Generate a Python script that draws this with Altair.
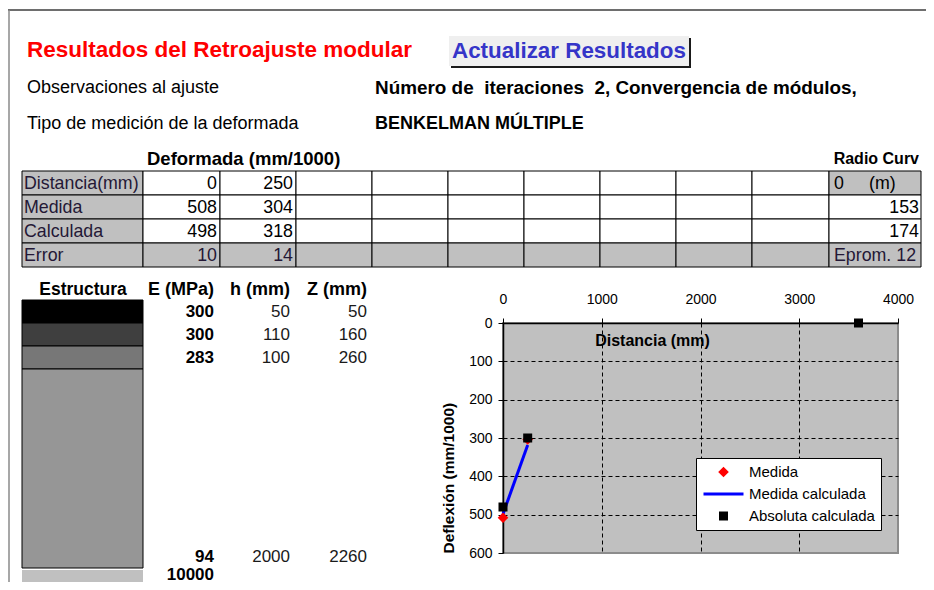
import altair as alt
import pandas as pd

# ---------------- data ----------------
distancia_mm = [0, 250]
deflexion_medida = [508, 304]
deflexion_calculada = [498, 318]
error_abs = [10, 14]
radio_distancia = 0
radio_medida = 153
radio_calculada = 174
error_promedio = 12

absoluta_dist = [0, 250, 3600]
absoluta_defl = [480, 300, 0]

capas_E = [300, 300, 283, 94, 10000]
capas_h = [50, 110, 100, 2000]
capas_Z = [50, 160, 260, 2260]

series = ["Medida", "Medida calculada", "Absoluta calculada"]
series_colors = ["#ff0000", "#0000ff", "#000000"]
x_ticks = [0, 1000, 2000, 3000, 4000]
y_ticks = [0, 100, 200, 300, 400, 500, 600]

titulo = "Resultados del Retroajuste modular"
boton = "Actualizar Resultados"
obs_label = "Observaciones al ajuste"
obs_text = "Número de\u00a0 iteraciones\u00a0 2, Convergencia de módulos,"
tipo_label = "Tipo de medición de la deformada"
tipo_text = "BENKELMAN MÚLTIPLE"
tabla_titulo = "Deformada (mm/1000)"
radio_titulo = "Radio Curv"
fila_labels = ["Distancia(mm)", "Medida", "Calculada", "Error"]
estructura_headers = ["Estructura", "E (MPa)", "h (mm)", "Z (mm)"]

# ---------------- layout (page geometry, not data) ----------------
FONT = "Liberation Sans"
OX, OY = 503, 323      # page position of the plot's top-left corner
PW, PH = 395, 230      # plot area size


def rx(v):
    return v - OX


def ry(v):
    return v - OY


col_edges = [22, 143, 220, 296, 372, 448, 524, 600, 676, 752, 829, 921]
row_edges = [171, 195, 219, 243, 267]
row_mid = [(row_edges[i] + row_edges[i + 1]) / 2 + 1 for i in range(4)]
layer_edges = [300, 323, 346, 369, 568]
layer_fills = ["#000000", "#3f3f3f", "#777777", "#969696", "#c0c0c0"]
value_rows = [311.5, 334.5, 357.5, 556.5, 574.5]
LABEL_COLOR = "#241836"

texts = []


def add(t, x, y, size, color="black", weight="normal", align="left"):
    texts.append(dict(text=t, x=rx(x), y=ry(y), size=size, color=color,
                      weight=weight, align=align))


add(titulo, 27, 50, 22.5, "#ff0000", "bold")
add(boton, 452, 51, 22.4, "#3535c8", "bold")
add(obs_label, 27, 88, 18)
add(obs_text, 375, 88, 18.9, weight="bold")
add(tipo_label, 27, 124, 18)
add(tipo_text, 375, 124, 18, weight="bold")
add(tabla_titulo, 147, 159, 18.5, weight="bold")
add(radio_titulo, 919, 159, 16, weight="bold", align="right")

rows_values = [distancia_mm, deflexion_medida, deflexion_calculada, error_abs]
for i, lab in enumerate(fila_labels):
    add(lab, 24, row_mid[i], 17.8, LABEL_COLOR)
    for j, v in enumerate(rows_values[i]):
        add(str(v), col_edges[j + 2] - 3, row_mid[i], 17.8,
            LABEL_COLOR if i == 3 else "black", align="right")
add(str(radio_distancia), 834, row_mid[0], 17.8)
add("(m)", 869, row_mid[0], 17.8)
add(str(radio_medida), 919, row_mid[1], 17.8, align="right")
add(str(radio_calculada), 919, row_mid[2], 17.8, align="right")
add(f"Eprom. {error_promedio}", 834, row_mid[3], 17.8, LABEL_COLOR)

add(estructura_headers[0], 83, 290, 17.5, weight="bold", align="center")
for hdr, xr in zip(estructura_headers[1:], [214, 290, 367]):
    add(hdr, xr, 290, 18, weight="bold", align="right")
for k, e in enumerate(capas_E):
    add(str(e), 214, value_rows[k], 17, weight="bold", align="right")
for k, (h, z) in enumerate(zip(capas_h, capas_Z)):
    add(str(h), 290, value_rows[k], 17, "#1a1a1a", align="right")
    add(str(z), 367, value_rows[k], 17, "#1a1a1a", align="right")

text_df = pd.DataFrame(texts)

# rectangles: table cells and structure layers (bordered), button (plain)
bordered = []
for r in range(4):
    for c in range(len(col_edges) - 1):
        grey = c == 0 or r == 3 or (r == 0 and c == len(col_edges) - 2)
        bordered.append(dict(x0=rx(col_edges[c]), x1=rx(col_edges[c + 1]),
                             y0=ry(row_edges[r]), y1=ry(row_edges[r + 1]),
                             fill="#c0c0c0" if grey else "#ffffff"))
for k in range(4):
    bordered.append(dict(x0=rx(22), x1=rx(143), y0=ry(layer_edges[k]),
                         y1=ry(layer_edges[k + 1]), fill=layer_fills[k]))
bordered_df = pd.DataFrame(bordered)

plain_df = pd.DataFrame([
    dict(x0=rx(451), x1=rx(691), y0=ry(38), y1=ry(68), fill="#1a1a1a"),
    dict(x0=rx(449), x1=rx(689), y0=ry(36), y1=ry(66), fill="#efefef"),
    dict(x0=rx(22), x1=rx(143), y0=ry(570), y1=ry(600), fill=layer_fills[4]),
])

hline_df = pd.DataFrame({"x0": [rx(8)], "x1": [rx(934)], "y": [ry(10)]})
vline_df = pd.DataFrame({"x": [rx(9)], "y0": [ry(10)], "y1": [ry(600)]})

# ---------------- layers ----------------
px = dict(x=alt.X("x0:Q", scale=None, axis=None), x2="x1:Q",
          y=alt.Y("y0:Q", scale=None, axis=None), y2="y1:Q",
          color=alt.Color("fill:N", scale=None, legend=None))

frame_h = alt.Chart(hline_df).mark_rule(color="#6e6e6e", strokeWidth=2).encode(
    x=alt.X("x0:Q", scale=None, axis=None), x2="x1:Q",
    y=alt.Y("y:Q", scale=None, axis=None))
frame_v = alt.Chart(vline_df).mark_rule(color="#8a8a8a", strokeWidth=1.5).encode(
    x=alt.X("x:Q", scale=None, axis=None),
    y=alt.Y("y0:Q", scale=None, axis=None), y2="y1:Q")

plain_rects = alt.Chart(plain_df).mark_rect().encode(**px)
bordered_rects = alt.Chart(bordered_df).mark_rect(stroke="black", strokeWidth=1).encode(**px)

text_layers = []
for (w, a), g in text_df.groupby(["weight", "align"]):
    text_layers.append(
        alt.Chart(g).mark_text(font=FONT, fontWeight=w, align=a, baseline="middle").encode(
            x=alt.X("x:Q", scale=None, axis=None),
            y=alt.Y("y:Q", scale=None, axis=None),
            text="text:N",
            size=alt.Size("size:Q", scale=None, legend=None),
            color=alt.Color("color:N", scale=None, legend=None)))

# ---------------- deflection plot ----------------
xs = alt.Scale(domain=[0, 4000], nice=False, zero=False)
ys = alt.Scale(domain=[0, 600], nice=False, reverse=True)

xaxis = alt.Axis(
    orient="top", values=x_ticks, format="d", labelFont=FONT, labelFontSize=14,
    labelColor="black", labelPadding=12, labelFlush=False, labelOverlap=False,
    domainColor="black", domainWidth=1.5, tickColor="black", tickSize=5,
    grid=True, gridColor="black", gridDash=[4, 3], gridWidth=1,
    gridOpacity={"condition": {"test": "datum.value === 0 || datum.value === 4000",
                               "value": 0}, "value": 1},
    title="Distancia (mm)", titleFont=FONT, titleFontSize=16, titleFontWeight="bold",
    titleColor="black", titleX=149, titleY=17, titleAlign="center",
    titleBaseline="middle", titleAngle=0)
yaxis = alt.Axis(
    orient="left", values=y_ticks, format="d", labelFont=FONT, labelFontSize=14,
    labelColor="black", labelPadding=6, labelFlush=False, labelOverlap=False,
    domainColor="black", domainWidth=1.5, tickColor="black", tickSize=5,
    grid=True, gridColor="black", gridDash=[4, 3], gridWidth=1,
    gridOpacity={"condition": {"test": "datum.value === 0 || datum.value === 600",
                               "value": 0}, "value": 1},
    title="Deflexión (mm/1000)", titleFont=FONT, titleFontSize=15.5,
    titleFontWeight="bold", titleColor="black", titleAngle=270, titleX=-55,
    titleY=PH, titleAlign="left", titleBaseline="middle")

line_df = pd.DataFrame({"dist": distancia_mm, "defl": deflexion_calculada})
pts_df = pd.DataFrame({
    "dist": distancia_mm + absoluta_dist,
    "defl": deflexion_medida + absoluta_defl,
    "serie": [series[0]] * len(distancia_mm) + [series[2]] * len(absoluta_dist),
})

shape_paths = ["M-0.16,0L0,-0.16L0.16,0L0,0.16Z", "M-1,0L1,0",
               "M-0.15,-0.15L0.15,-0.15L0.15,0.15L-0.15,0.15Z"]
leg = alt.Legend(orient="none", legendX=193, legendY=135, title=None,
                 direction="vertical", fillColor="white", strokeColor="black",
                 padding=6, cornerRadius=0, labelFont=FONT, labelFontSize=15,
                 labelColor="black", labelOffset=4, rowPadding=6, symbolSize=1600,
                 symbolStrokeWidth=3, symbolOpacity=1, clipHeight=16, labelLimit=300)

calc_line = alt.Chart(line_df).mark_line(color="#0000ff", strokeWidth=3).encode(
    x=alt.X("dist:Q", scale=xs, axis=xaxis),
    y=alt.Y("defl:Q", scale=ys, axis=yaxis))

points = alt.Chart(pts_df).mark_point(filled=True, size=1600, strokeWidth=3,
                                      opacity=1, strokeJoin="miter").encode(
    x=alt.X("dist:Q", scale=xs, axis=xaxis),
    y=alt.Y("defl:Q", scale=ys, axis=yaxis),
    fill=alt.Fill("serie:N", scale=alt.Scale(domain=series, range=series_colors), legend=leg),
    stroke=alt.Stroke("serie:N", scale=alt.Scale(domain=series, range=series_colors), legend=leg),
    shape=alt.Shape("serie:N", scale=alt.Scale(domain=series, range=shape_paths), legend=leg))

chart = alt.layer(
    frame_h, frame_v, plain_rects, bordered_rects, *text_layers, calc_line, points
).properties(
    width=PW, height=PH, autosize="none",
    padding={"left": OX - 8, "top": OY - 8, "right": 918 - (OX - 8) - PW,
             "bottom": 574 - (OY - 8) - PH},
    background="white",
).configure_view(fill="#c0c0c0", stroke="#8c8c8c", strokeWidth=2)

chart.save("out.html", embed_options={"renderer": "svg", "actions": False})
